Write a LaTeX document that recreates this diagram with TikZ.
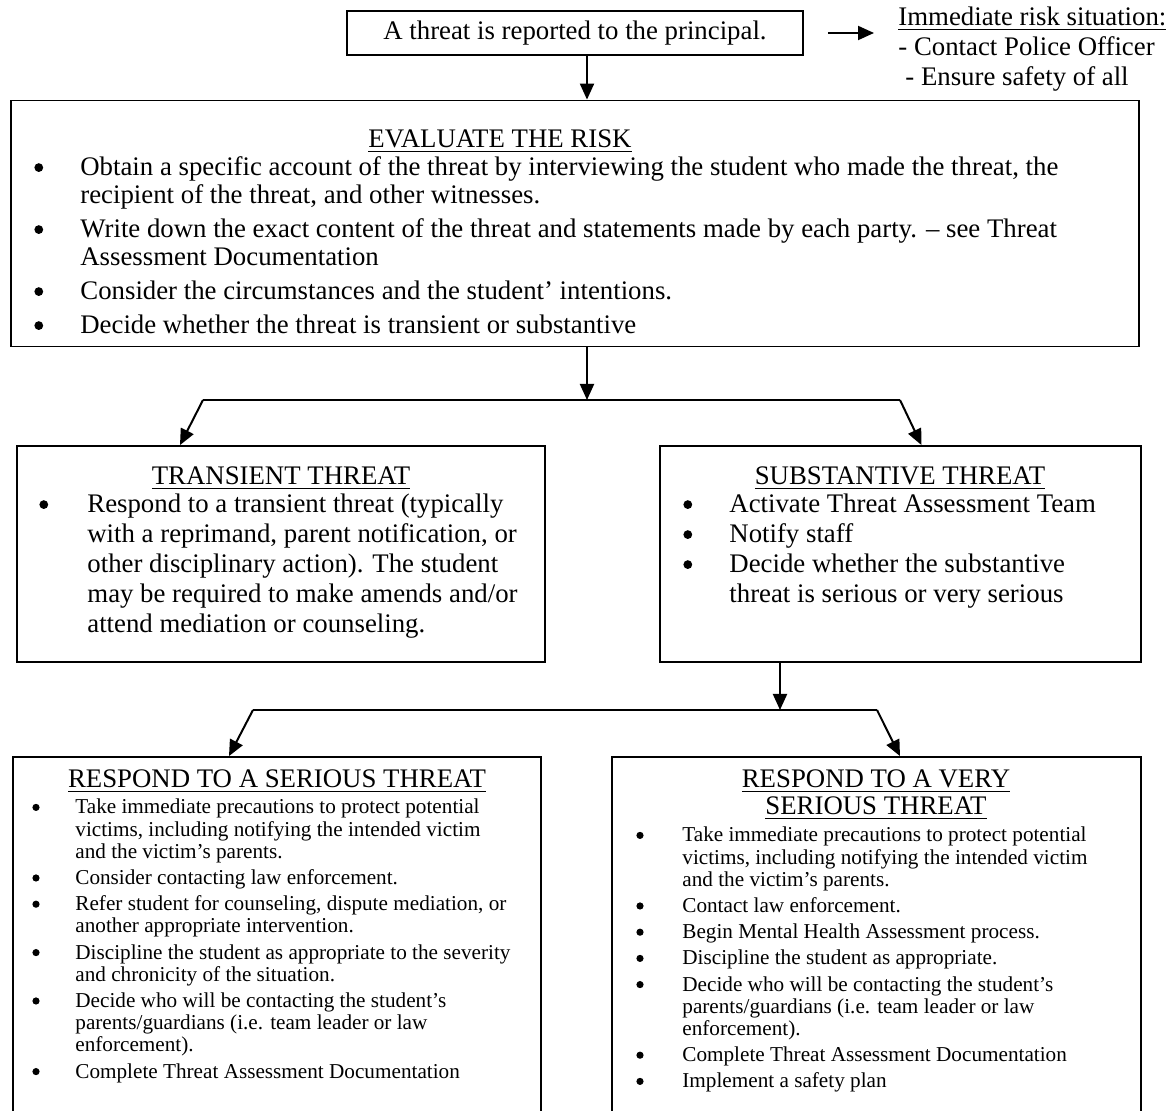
\documentclass[tikz,border=0pt]{standalone}
\usepackage{fontspec}
\setmainfont{Liberation Serif}
\usetikzlibrary{arrows.meta,calc}

\tikzset{
  box/.style={draw, line width=0.9pt, inner sep=0pt},
  head/.style={inner sep=0pt, anchor=base, align=center},
  list/.style={inner sep=0pt, anchor=base west},
  arr/.style={line width=1pt, -{Triangle[length=8pt,width=7pt]}},
  link/.style={line width=1pt},
}
\newcommand{\mainsize}{\fontsize{13.4}{14}\selectfont}
\newcommand{\boxsize}{\fontsize{13.4}{15}\selectfont}
\newcommand{\listsize}{\fontsize{10.6}{11.1}\selectfont}
% bullets drawn as dots
\newcommand{\bul}{\tikz[baseline=-4.2pt]\fill (0,0) circle (2.2pt);}
\newcommand{\sbul}{\tikz[baseline=-3.3pt]\fill (0,0) circle (1.8pt);}

\begin{document}
\begin{tikzpicture}[x=0.5pt, y=-0.5pt]
    \useasboundingbox (0,0) rectangle (1169,1111);

    % boxes
    \node[box, minimum width=228pt, minimum height=22pt, font=\mainsize] (report) at (575,33) {A threat is reported to the principal.};
    \node[box, minimum width=564pt, minimum height=123pt] (evaluate) at (575,223.5) {};
    \node[box, minimum width=264pt, minimum height=108pt] (transient) at (281,554) {};
    \node[box, minimum width=240.5pt, minimum height=108pt] (substantive) at (900.5,554) {};
    \node[box, minimum width=264pt, minimum height=190pt] (serious) at (277,947) {};
    \node[box, minimum width=264.5pt, minimum height=190pt] (veryserious) at (876.5,947) {};

    % immediate risk
    \node[list, font=\boxsize] (risk) at (898,26) {\begin{tabular}[t]{@{}l@{}}
        \underline{Immediate risk situation:}\\
        - Contact Police Officer\\
        \hspace{3.5pt}- Ensure safety of all
    \end{tabular}};

    % evaluate
    \node[head, font=\mainsize] (evaltitle) at (500,148) {\underline{EVALUATE THE RISK}};
    \node[list, font=\mainsize] (evallist) at (34,176) {\begin{tabular}[t]{@{}p{23pt}@{}l@{}}
        \bul & Obtain a specific account of the threat by interviewing the student who made the threat, the\\
        & recipient of the threat, and other witnesses.\\[3pt]
        \bul & Write down the exact content of the threat and statements made by each party. – see Threat\\
        & Assessment Documentation\\[3pt]
        \bul & Consider the circumstances and the student’ intentions.\\[3pt]
        \bul & Decide whether the threat is transient or substantive
    \end{tabular}};

    % transient
    \node[head, font=\mainsize] (transtitle) at (281,485) {\underline{TRANSIENT THREAT}};
    \node[list, font=\boxsize] (translist) at (39,513) {\begin{tabular}[t]{@{}p{24pt}@{}l@{}}
        \bul & Respond to a transient threat (typically\\
        & with a reprimand, parent notification, or\\
        & other disciplinary action). The student\\
        & may be required to make amends and/or\\
        & attend mediation or counseling.
    \end{tabular}};

    % substantive
    \node[head, font=\mainsize] (substtitle) at (900,485) {\underline{SUBSTANTIVE THREAT}};
    \node[list, font=\boxsize] (substlist) at (683,513) {\begin{tabular}[t]{@{}p{23pt}@{}l@{}}
        \bul & Activate Threat Assessment Team\\
        \bul & Notify staff\\
        \bul & Decide whether the substantive\\
        & threat is serious or very serious
    \end{tabular}};

    % serious
    \node[head, font=\mainsize] (serioustitle) at (277,788) {\underline{RESPOND TO A SERIOUS THREAT}};
    \node[list, font=\listsize] (seriouslist) at (32,814) {\begin{tabular}[t]{@{}p{21.5pt}@{}l@{}}
        \sbul & Take immediate precautions to protect potential\\
        & victims, including notifying the intended victim\\
        & and the victim’s parents.\\[2pt]
        \sbul & Consider contacting law enforcement.\\[2pt]
        \sbul & Refer student for counseling, dispute mediation, or\\
        & another appropriate intervention.\\[2pt]
        \sbul & Discipline the student as appropriate to the severity\\
        & and chronicity of the situation.\\[2pt]
        \sbul & Decide who will be contacting the student’s\\
        & parents/guardians (i.e. team leader or law\\
        & enforcement).\\[2pt]
        \sbul & Complete Threat Assessment Documentation
    \end{tabular}};

    % very serious
    \node[head, font=\mainsize] (verytitle) at (876,788) {\underline{RESPOND TO A VERY}};
    \node[head, font=\mainsize] (verytitle2) at (876,815) {\underline{SERIOUS THREAT}};
    \node[list, font=\listsize] (verylist) at (636,842) {\begin{tabular}[t]{@{}p{23pt}@{}l@{}}
        \sbul & Take immediate precautions to protect potential\\
        & victims, including notifying the intended victim\\
        & and the victim’s parents.\\[2pt]
        \sbul & Contact law enforcement.\\[2pt]
        \sbul & Begin Mental Health Assessment process.\\[2pt]
        \sbul & Discipline the student as appropriate.\\[2pt]
        \sbul & Decide who will be contacting the student’s\\
        & parents/guardians (i.e. team leader or law\\
        & enforcement).\\[2pt]
        \sbul & Complete Threat Assessment Documentation\\[2pt]
        \sbul & Implement a safety plan
    \end{tabular}};

    % forks
    \coordinate (fork1) at (587,400);
    \coordinate (fork1L) at (203,400);
    \coordinate (fork1R) at (900,400);
    \coordinate (fork2) at (780,710);
    \coordinate (fork2L) at (253,710);
    \coordinate (fork2R) at (877,710);

    % connectors
    \draw[arr] ([xshift=12pt]report.east) -- ([xshift=-12pt]risk.west |- report.east);
    \draw[arr] ([xshift=6pt]report.south) -- ([xshift=6pt]report.south |- evaluate.north);
    \draw[arr] (evaluate.south -| fork1) -- (fork1);
    \draw[link] (fork1L) -- (fork1R);
    \draw[arr] (fork1L) -- ([xshift=-50.5pt]transient.north);
    \draw[arr] (fork1R) -- ([xshift=10.5pt]substantive.north);
    \draw[arr] (substantive.south -| fork2) -- (fork2);
    \draw[link] (fork2L) -- (fork2R);
    \draw[arr] (fork2L) -- ([xshift=-24pt]serious.north);
    \draw[arr] (fork2R) -- ([xshift=11.75pt]veryserious.north);
\end{tikzpicture}
\end{document}
